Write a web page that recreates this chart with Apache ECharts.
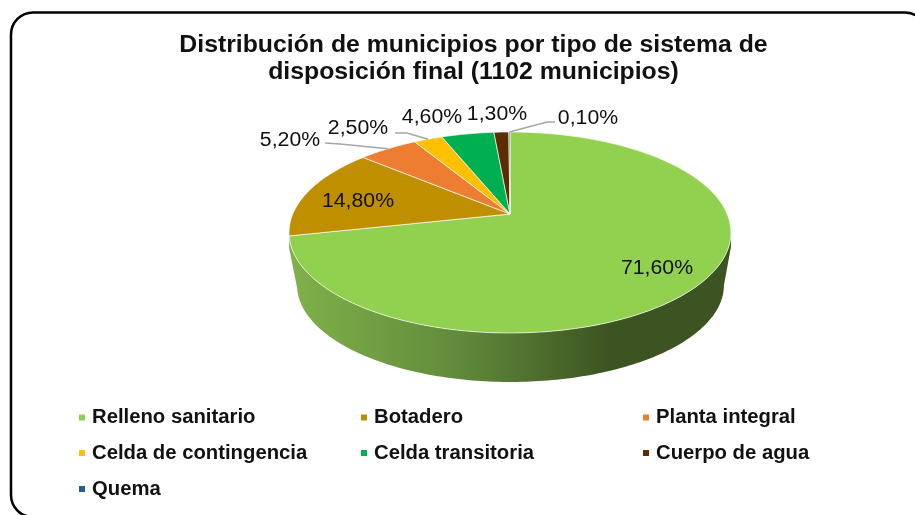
<!DOCTYPE html>
<html>
<head>
<meta charset="utf-8">
<style>html,body{margin:0;padding:0;background:#fff}#main{width:915px;height:515px}</style>
<script src="https://cdn.jsdelivr.net/npm/echarts@6/dist/echarts.min.js"></script>
</head>
<body>
<div id="main"></div>
<script>
var categories = ['Relleno sanitario', 'Botadero', 'Planta integral', 'Celda de contingencia', 'Celda transitoria', 'Cuerpo de agua', 'Quema'];
var values = [71.6, 14.8, 5.2, 2.5, 4.6, 1.3, 0.1];
var colors = ['#92D050', '#BF8F00', '#ED7D31', '#FFC000', '#00B050', '#5F2C00', '#255E91'];

// layout of the labels and of the legend, by category
var labelAt = [[657, 269], [358, 202], [290, 141], [358, 129], [432, 118], [497, 115], [588, 119]];
var elbowAt = [null, null, [340, 144], [407, 133], null, null, [547, 122]];
var leaderEnd = [null, null, [325, 143], [395, 133], null, null, [555, 122]];
var legendAt = [[74, 402.5], [356, 402.5], [638, 402.5], [74, 438], [356, 438], [638, 438], [74, 474]];

var total = values.reduce(function (a, b) { return a + b; }, 0);

// perspective disc: the apex of the slices sits above the middle of the ellipse
var apexX = 510, apexY = 214, radX = 217.2, radY = 97.1, tilt = -0.184;
function rim(share) {
	var t = share * 2 * Math.PI;
	var u = Math.sin(t), v = -Math.cos(t);
	var d = 1 + tilt * v;
	return [apexX + radX * u / d, apexY + radY * v / d];
}
function lowerRim(p) {
	return [510.5 + (p[0] - 510) * 0.966, 285 + (p[1] - 232.5) * 0.965];
}
function startShare(i) {
	var s = 0;
	for (var k = 0; k < i; k++) s += values[k];
	return s / total;
}
function arcPoints(a, b) {
	var pts = [];
	var n = Math.max(2, Math.ceil((b - a) * 360));
	for (var k = 0; k <= n; k++) pts.push(rim(a + (b - a) * k / n));
	return pts;
}

function renderSlice(params, api) {
	var i = params.seriesIndex;
	var a = startShare(i);
	var b = a + api.value(0) / total;
	var children = [];

	// side wall only shows under the first slice
	if (i === 0) {
		var all = arcPoints(a, b);
		var m = 0;
		all.forEach(function (p, k) { if (p[0] > all[m][0]) m = k; });
		var top = all.slice(m);
		var low = top.map(lowerRim).reverse();
		var first = top[0], last = top[top.length - 1];
		var wall = [[first[0], first[1]]].concat(top, [[last[0], last[1] + 12]], low, [[first[0], first[1] + 14]]);
		children.push({
			type: 'polygon',
			shape: { points: wall },
			style: { fill: new echarts.graphic.LinearGradient(295, 0, 610, 0, [
				{ offset: 0, color: '#7FB04A' },
				{ offset: 0.5, color: '#628C3B' },
				{ offset: 1, color: '#3C5421' }
			], true) }
		});
	}

	children.push({
		type: 'polygon',
		shape: { points: [[apexX, apexY]].concat(arcPoints(a, b)) },
		style: { fill: colors[i], stroke: '#fff', lineWidth: 0.8, strokeOpacity: 0.85 }
	});

	if (leaderEnd[i]) {
		children.push({
			type: 'polyline',
			shape: { points: [leaderEnd[i], elbowAt[i], rim((a + b) / 2)] },
			style: { fill: null, stroke: '#A6A6A6', lineWidth: 1.6 }
		});
	}

	// the reference text is a little wider than it is tall
	children.push({
		type: 'text',
		x: labelAt[i][0],
		y: labelAt[i][1],
		scaleX: 1.09,
		style: {
			text: api.value(0).toFixed(2).replace('.', ',') + '%',
			align: 'center',
			verticalAlign: 'middle',
			fill: '#111',
			font: '19.5px "Liberation Sans"'
		}
	});
	return { type: 'group', children: children };
}

var myChart = echarts.init(document.getElementById('main'));

var option = {
	animation: false,
	backgroundColor: '#fff',
	title: {
		text: 'Distribución de municipios por tipo de sistema de\ndisposición final (1102 municipios)',
		left: 468.5,
		top: 26.5,
		textAlign: 'center',
		textStyle: { fontFamily: 'Liberation Sans', fontSize: 24.8, fontWeight: 'bold', color: '#111', lineHeight: 27 }
	},
	legend: categories.map(function (name, i) {
		return {
			data: [name],
			left: legendAt[i][0],
			top: legendAt[i][1],
			icon: 'rect',
			itemWidth: 6,
			itemHeight: 6,
			selectedMode: false,
			textStyle: { fontFamily: 'Liberation Sans', fontSize: 20.3, fontWeight: 'bold', color: '#111', padding: [0, 0, 0, 2] }
		};
	}),
	// frame of the picture: the right and bottom sides fall outside the page
	graphic: [{
		type: 'rect',
		shape: { x: 11, y: 12.5, width: 916, height: 504.5, r: [22, 22, 0, 22] },
		style: { fill: null, stroke: '#000', lineWidth: 2.5 },
		silent: true
	}],
	series: categories.map(function (name, i) {
		return {
			type: 'custom',
			name: name,
			coordinateSystem: 'none',
			itemStyle: { color: colors[i] },
			renderItem: renderSlice,
			data: [[values[i]]]
		};
	})
};
myChart.setOption(option);
</script>
</body>
</html>
